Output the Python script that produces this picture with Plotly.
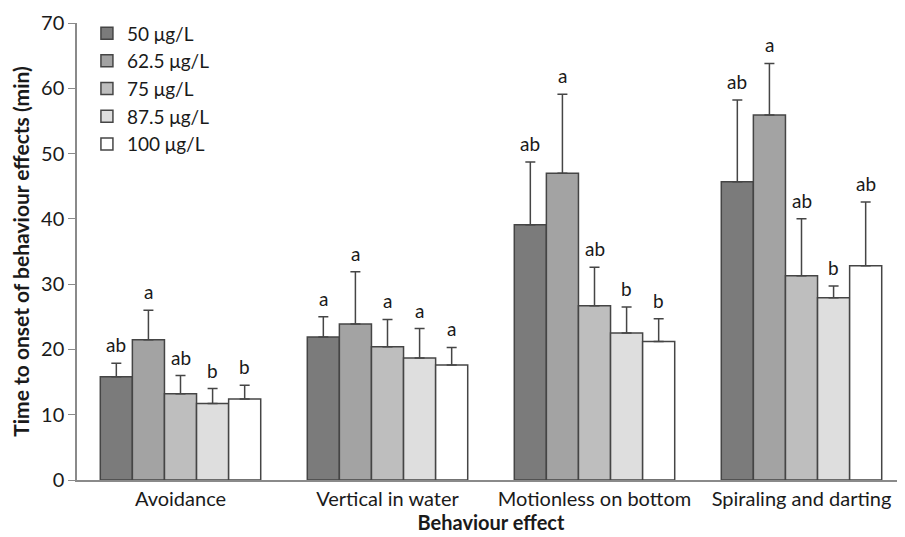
import plotly.graph_objects as go

categories = ["Avoidance", "Vertical in water", "Motionless on bottom", "Spiraling and darting"]
series_names = ["50 μg/L", "62.5 μg/L", "75 μg/L", "87.5 μg/L", "100 μg/L"]
means = [
    [15.8, 21.9, 39.1, 45.7],
    [21.5, 23.9, 47.0, 55.9],
    [13.2, 20.4, 26.7, 31.3],
    [11.7, 18.7, 22.5, 27.9],
    [12.4, 17.6, 21.2, 32.8],
]
errors = [
    [2.1, 3.1, 9.6, 12.5],
    [4.5, 8.0, 12.1, 7.9],
    [2.8, 4.2, 5.9, 8.7],
    [2.3, 4.5, 4.0, 1.8],
    [2.1, 2.7, 3.5, 9.8],
]
letters = [
    ["ab", "a", "ab", "ab"],
    ["a", "a", "a", "a"],
    ["ab", "a", "ab", "ab"],
    ["b", "a", "b", "b"],
    ["b", "a", "b", "ab"],
]
colors = ["#7b7b7b", "#a3a3a3", "#bebebe", "#dedede", "#ffffff"]

FONT = "Lato, 'Open Sans', sans-serif"

fig = go.Figure()
for i, name in enumerate(series_names):
    fig.add_trace(go.Bar(
        name=name,
        x=categories,
        y=means[i],
        marker=dict(color=colors[i], line=dict(color="#454545", width=1.5)),
        error_y=dict(type="data", array=errors[i], symmetric=False, arrayminus=[0]*4,
                     visible=True, color="#454545", thickness=1.5, width=5),
        legendgroup=name,
        offsetgroup=str(i),
    ))

ncat = len(categories)
nser = len(series_names)
bargap = 0.225
group_w = 1 - bargap
bw = group_w / nser
for i in range(nser):
    for j in range(ncat):
        xoff = j - group_w / 2 + bw * (i + 0.5)
        fig.add_annotation(
            x=xoff, y=means[i][j] + errors[i][j], xref="x", yref="y",
            text=letters[i][j], showarrow=False, yanchor="bottom", yshift=5,
            font=dict(size=19, color="#1a1a1a", family=FONT),
        )

fig.update_layout(
    width=897, height=529,
    margin=dict(l=69, r=0, t=15, b=57),
    paper_bgcolor="white", plot_bgcolor="white",
    barmode="group", bargap=bargap, bargroupgap=0,
    font=dict(family=FONT, size=19, color="#1a1a1a"),
    showlegend=True,
    legend=dict(x=0.012, y=1.019, xanchor="left", yanchor="top",
                font=dict(size=19, family=FONT), bgcolor="rgba(0,0,0,0)",
                tracegroupgap=4, itemwidth=30, traceorder="normal"),
    xaxis=dict(
        title=dict(text="<b>Behaviour effect</b>", font=dict(size=20, family=FONT), standoff=7),
        showline=True, linecolor="#8a8a8a", linewidth=1.5,
        ticks="", tickfont=dict(size=20, family=FONT),
        range=[-0.5, 3.5], automargin=False,
    ),
    yaxis=dict(
        title=dict(text="<b>Time to onset of behaviour effects (min)</b>", font=dict(size=21, family=FONT), standoff=8),
        range=[0, 70], dtick=10, showgrid=False, zeroline=False,
        showline=True, linecolor="#8a8a8a", linewidth=1.5,
        ticks="outside", ticklen=7, tickcolor="#8a8a8a",
        tickfont=dict(size=20, family=FONT), automargin=False,
    ),
)

fig.write_html("out.html")
